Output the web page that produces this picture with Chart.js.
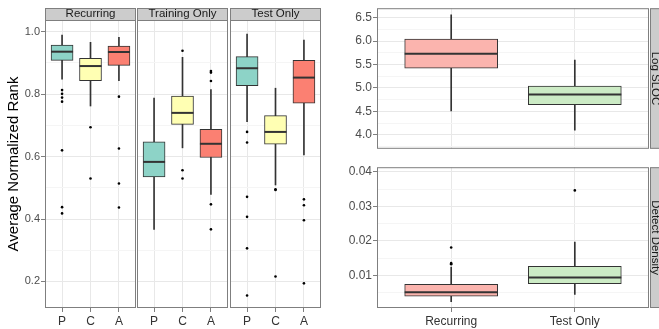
<!DOCTYPE html>
<html><head><meta charset="utf-8">
<script src="https://cdn.jsdelivr.net/npm/chart.js@4.4.1/dist/chart.umd.min.js"></script>
<style>
html,body{margin:0;padding:0;background:#fff;width:659px;height:329px;overflow:hidden;position:relative}
canvas{position:absolute}
</style></head><body>
<canvas id="c1" width="136" height="329" style="left:0;top:0"></canvas>
<canvas id="c2" width="91" height="329" style="left:137px;top:0"></canvas>
<canvas id="c3" width="91" height="329" style="left:230px;top:0"></canvas>
<canvas id="c4" width="336" height="157" style="left:330px;top:0"></canvas>
<canvas id="c5" width="336" height="170" style="left:330px;top:159px"></canvas>
<script>
// ---------- Left figure: Average Normalized Rank ----------
const methodLabels = ['P', 'C', 'A'];
const facetNames = ['Recurring', 'Training Only', 'Test Only'];
const methodFills = ['#8DD3C7', '#FFFFB3', '#FB8072'];
const rankMajorTicks = [0.2, 0.4, 0.6, 0.8, 1.0];
const rankMinorTicks = [0.3, 0.5, 0.7, 0.9];

const recurringLow    = [0.848, 0.762, 0.843];
const recurringQ1     = [0.908, 0.843, 0.892];
const recurringMedian = [0.936, 0.890, 0.935];
const recurringQ3     = [0.957, 0.915, 0.954];
const recurringHigh   = [0.989, 0.966, 0.982];
const recurringOutliers = [[0.813, 0.801, 0.789, 0.776, 0.620, 0.438, 0.418], [0.694, 0.530], [0.792, 0.626, 0.514, 0.437]];

const trainingLow    = [0.367, 0.628, 0.479];
const trainingQ1     = [0.535, 0.703, 0.597];
const trainingMedian = [0.583, 0.740, 0.641];
const trainingQ3     = [0.647, 0.794, 0.687];
const trainingHigh   = [0.787, 0.918, 0.815];
const trainingOutliers = [[], [0.939, 0.556, 0.530], [0.874, 0.869, 0.842, 0.447, 0.367]];

const testLow    = [0.712, 0.509, 0.605];
const testQ1     = [0.827, 0.640, 0.771];
const testMedian = [0.883, 0.679, 0.853];
const testQ3     = [0.920, 0.731, 0.908];
const testHigh   = [0.992, 0.819, 0.973];
const testOutliers = [[0.679, 0.645, 0.471, 0.407, 0.306, 0.155], [0.495, 0.493, 0.216], [0.463, 0.444, 0.396, 0.194]];

// ---------- Right figure ----------
const groupLabels = ['Recurring', 'Test Only'];
const groupFills = ['#FBB4AE', '#CCEBC5'];
const metricNames = ['Log SLOC', 'Detect Density'];
const slocMajorTicks = [4.0, 4.5, 5.0, 5.5, 6.0, 6.5];
const slocMinorTicks = [3.75, 4.25, 4.75, 5.25, 5.75, 6.25];
const densityMajorTicks = [0.01, 0.02, 0.03, 0.04];
const densityMinorTicks = [0.005, 0.015, 0.025, 0.035];

const slocLow    = [4.51, 4.10];
const slocQ1     = [5.42, 4.64];
const slocMedian = [5.73, 4.86];
const slocQ3     = [6.04, 5.04];
const slocHigh   = [6.56, 5.595];
const slocOutliers = [[], []];

const densityLow    = [0.00245, 0.00455];
const densityQ1     = [0.00409, 0.00764];
const densityMedian = [0.00518, 0.00945];
const densityQ3     = [0.00746, 0.01265];
const densityHigh   = [0.01245, 0.0197];
const densityOutliers = [[0.0181, 0.0136, 0.0133], [0.0346]];

Chart.defaults.font.family = '"Liberation Sans", Arial, Helvetica, sans-serif';
Chart.defaults.animation = false;

const panelPlugin = {
  id: 'panel',
  beforeDraw(chart, args, o) {
    const {ctx, chartArea: a} = chart;
    ctx.save();
    ctx.fillStyle = '#FFFFFF';
    ctx.fillRect(a.left, a.top, a.width, a.height);
    ctx.fillStyle = '#CCCCCC';
    ctx.strokeStyle = '#7F7F7F';
    ctx.lineWidth = 1;
    if (o.top) {
      ctx.fillRect(a.left, a.top - o.top, a.width, o.top);
      ctx.strokeRect(a.left + 0.5, a.top - o.top + 0.5, a.width - 1, o.top);
    }
    if (o.right) {
      ctx.fillRect(a.right + 1, a.top, o.right, a.height);
      ctx.strokeRect(a.right + 1.5, a.top + 0.5, o.right - 1, a.height - 1);
    }
    ctx.restore();
  },
  afterDraw(chart) {
    const {ctx, chartArea: a} = chart;
    ctx.save();
    ctx.strokeStyle = '#7F7F7F';
    ctx.lineWidth = 1;
    ctx.strokeRect(a.left + 0.5, a.top + 0.5, a.width - 1, a.height - 1);
    ctx.restore();
  }
};

function near(list, v) { return list.some(m => Math.abs(m - v) < 1e-9); }

function makeBoxChart(id, c) {
  const xs = c.labels.map((_, i) => i + 1);
  const datasets = [
    {type: 'bar', order: 3, grouped: false, barThickness: 1, backgroundColor: '#333333',
     data: xs.map((x, i) => ({x, y: [c.low[i], c.high[i]]}))},
    {type: 'bar', order: 2, grouped: false, barThickness: c.boxW, backgroundColor: c.fills,
     borderColor: '#333333', borderWidth: 1, borderSkipped: false,
     data: xs.map((x, i) => ({x, y: [c.q1[i], c.q3[i]]}))},
    {type: 'scatter', order: 1, pointStyle: 'line', pointRadius: c.boxW / 2, pointBorderWidth: 2,
     pointBorderColor: '#333333', data: xs.map((x, i) => ({x, y: c.median[i]}))},
    {type: 'scatter', order: 0, pointRadius: 1.3, pointBackgroundColor: '#000000', pointBorderWidth: 0,
     data: c.outliers.flatMap((arr, i) => arr.map(v => ({x: xs[i], y: v})))}
  ];
  const allTicks = c.major.concat(c.minor).sort((a, b) => a - b);
  const scales = {
    x: {
      type: 'linear', min: 0.4, max: c.labels.length + 0.6, offset: false,
      grid: {offset: false, color: '#E8E8E8', lineWidth: 1, drawTicks: c.showX, tickLength: 4, tickColor: '#7F7F7F'},
      border: {display: false},
      ticks: {display: c.showX, autoSkip: false, maxRotation: 0, padding: 2,
              font: {size: 12}, color: '#333333', callback: v => c.labels[v - 1] || ''},
      afterBuildTicks: s => { s.ticks = xs.map(v => ({value: v})); },
      afterFit: s => { s.height = c.xH; }
    },
    y: {
      type: 'linear', min: c.yMin, max: c.yMax,
      grid: {
        color: ctx => (ctx.tick && near(c.major, ctx.tick.value)) ? '#E8E8E8' : '#F5F5F5',
        lineWidth: 1,
        drawTicks: c.showY, tickLength: 4,
        tickColor: ctx => (ctx.tick && near(c.major, ctx.tick.value)) ? '#7F7F7F' : 'rgba(0,0,0,0)'
      },
      border: {display: false},
      ticks: {display: c.showY, autoSkip: false, padding: 1, font: {size: c.yFont}, color: '#4D4D4D',
              callback: v => near(c.major, v) ? v.toFixed(c.dec) : ''},
      title: {display: !!c.yTitle, text: c.yTitle || '', font: {size: 15}, color: '#000000', padding: {top: 5, bottom: 0}},
      afterBuildTicks: s => { s.ticks = allTicks.map(v => ({value: v})); },
      afterFit: s => { s.width = c.yW; }
    }
  };
  if (c.rightStrip) {
    scales.y2 = {
      type: 'linear', position: 'right', display: true,
      grid: {display: false, drawTicks: false}, border: {display: false},
      ticks: {display: false},
      title: {display: true, text: c.rightStrip, font: {size: 11.5}, color: '#1A1A1A', padding: {top: 3.6, bottom: 0}},
      afterFit: s => { s.width = 17; }
    };
  }
  return new Chart(document.getElementById(id), {
    type: 'bar',
    data: {datasets},
    options: {
      responsive: false, animation: false, events: [],
      layout: {autoPadding: false, padding: {top: c.padTop, left: 0, right: 0, bottom: 0}},
      scales,
      plugins: {
        legend: {display: false},
        tooltip: {enabled: false},
        title: c.topStrip ? {display: true, text: c.topStrip, fullSize: false, padding: 0,
                 font: {size: 11.5, weight: 'normal', lineHeight: '12px'}, color: '#1A1A1A'} : {display: false},
        panel: {top: c.topStrip ? 12 : 0, right: c.rightStrip ? 17 : 0}
      }
    },
    plugins: [panelPlugin]
  });
}

const leftCommon = {labels: methodLabels, fills: methodFills, boxW: 22, yMin: 0.115, yMax: 1.0375,
  major: rankMajorTicks, minor: rankMinorTicks, dec: 1, yFont: 11, showX: true, xH: 21, padTop: 8};

makeBoxChart('c1', Object.assign({}, leftCommon, {
  low: recurringLow, q1: recurringQ1, median: recurringMedian, q3: recurringQ3, high: recurringHigh,
  outliers: recurringOutliers, showY: true, yW: 45, yTitle: 'Average Normalized Rank', topStrip: facetNames[0]}));
makeBoxChart('c2', Object.assign({}, leftCommon, {
  low: trainingLow, q1: trainingQ1, median: trainingMedian, q3: trainingQ3, high: trainingHigh,
  outliers: trainingOutliers, showY: false, yW: 0, topStrip: facetNames[1]}));
makeBoxChart('c3', Object.assign({}, leftCommon, {
  low: testLow, q1: testQ1, median: testMedian, q3: testQ3, high: testHigh,
  outliers: testOutliers, showY: false, yW: 0, topStrip: facetNames[2]}));

makeBoxChart('c4', {labels: groupLabels, fills: groupFills, boxW: 93, yMin: 3.7, yMax: 6.7,
  major: slocMajorTicks, minor: slocMinorTicks, dec: 1, yFont: 12, showX: false, xH: 0, padTop: 7,
  low: slocLow, q1: slocQ1, median: slocMedian, q3: slocQ3, high: slocHigh, outliers: slocOutliers,
  showY: true, yW: 47, rightStrip: metricNames[0]});
makeBoxChart('c5', {labels: groupLabels, fills: groupFills, boxW: 93, yMin: 0.00065, yMax: 0.0413,
  major: densityMajorTicks, minor: densityMinorTicks, dec: 2, yFont: 12, showX: true, xH: 21, padTop: 0,
  low: densityLow, q1: densityQ1, median: densityMedian, q3: densityQ3, high: densityHigh, outliers: densityOutliers,
  showY: true, yW: 47, rightStrip: metricNames[1]});
</script>
</body></html>
